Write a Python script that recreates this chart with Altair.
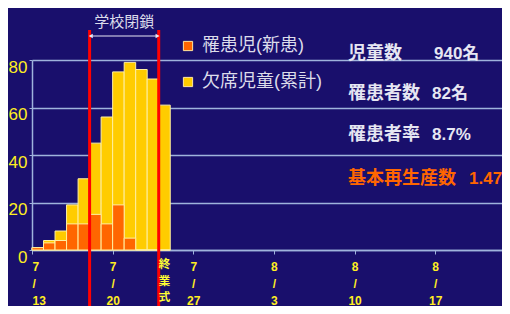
import json
import altair as alt
import pandas as pd

# ---- data ----
dates = ["7/13", "7/14", "7/15", "7/16", "7/17", "7/18", "7/19", "7/20", "7/21", "7/22", "7/23", "7/24"]
absent_cum = [1, 4, 8, 19, 30, 45, 56, 75, 79, 76, 72, 61]
new_cases = [1, 3, 4, 11, 11, 15, 11, 19, 5, 0, 0, 0]
series_names = ["罹患児(新患)", "欠席児童(累計)"]
tick_dates = ["7/13", "7/20", "7/27", "8/3", "8/10", "8/17"]
y_ticks = [0, 20, 40, 60, 80]
closure_dates = ["7/18", "7/24"]
closure_label = "学校閉鎖"
ceremony_label = "終業式"
stat_labels = ["児童数", "罹患者数", "罹患者率", "基本再生産数"]
stat_values = ["940名", "82名", "8.7%", "1.47"]


def day_index(s):
    m, d = map(int, s.split("/"))
    return d - 13 if m == 7 else 31 - 13 + d


rows = []
for name, vals in [(series_names[1], absent_cum), (series_names[0], new_cases)]:
    for dt, v in zip(dates, vals):
        rows.append({"date": dt, "day": day_index(dt), "day_end": day_index(dt) + 1,
                     "series": name, "value": v})
bars_df = pd.DataFrame(rows)

label_expr = " : ".join(
    f"datum.value == {day_index(t)} ? {json.dumps([t.split('/')[0], '/', t.split('/')[1]])}"
    for t in tick_dates
) + " : ''"

BG = "#190f6c"
GRID = "#9fb3dc"
YELLOW_TXT = "#ffee22"
LIGHT = "#dcdcea"
CJK = "Liberation Sans, Noto Sans CJK JP"

x_scale = alt.Scale(domain=[0, 40.8], nice=False, zero=False)
y_scale = alt.Scale(domain=[0, 80], nice=False)

bars = alt.Chart(bars_df).mark_bar(stroke="#fff0a0", strokeWidth=1, opacity=1).encode(
    x=alt.X("day:Q", scale=x_scale, title=None,
            axis=alt.Axis(values=[day_index(t) for t in tick_dates], labelExpr=label_expr,
                          grid=False, domainColor=GRID, domainWidth=1.5, tickColor=GRID, tickSize=4,
                          labelColor=YELLOW_TXT, labelFontSize=12, labelFontWeight="bold",
                          labelFont="Liberation Sans", labelLineHeight=17, labelPadding=7,
                          labelBaseline="top")),
    x2="day_end:Q",
    y=alt.Y("value:Q", scale=y_scale, stack=None, title=None,
            axis=alt.Axis(values=y_ticks, grid=True, gridColor=GRID, gridWidth=1.5,
                          domainColor=GRID, domainWidth=1.5, tickColor=GRID, tickSize=3,
                          labelColor=YELLOW_TXT, labelFontSize=17, labelFont="Liberation Sans",
                          labelPadding=2, labelOffset=7)),
    y2=alt.datum(0),
    color=alt.Color("series:N", title=None,
                    scale=alt.Scale(domain=series_names, range=["#ff6600", "#ffcc00"]),
                    sort=series_names,
                    legend=alt.Legend(orient="none", legendX=147, legendY=-23, padding=0,
                                      symbolType="square", symbolSize=85, symbolStrokeColor="#ffe6a0",
                                      symbolStrokeWidth=1, symbolOpacity=1,
                                      labelFont=CJK, labelFontSize=18, labelColor=LIGHT,
                                      labelOffset=5, rowPadding=18, labelLimit=300)),
)

closure_df = pd.DataFrame({"day": [day_index(d) for d in closure_dates]})
red_lines = alt.Chart(closure_df).mark_rule(color="#ff0000", strokeWidth=3).encode(
    x=alt.X("day:Q", scale=x_scale), y=alt.value(-30), y2=alt.value(246)
)

arrow_df = pd.DataFrame({"start": [day_index(closure_dates[0]) + 0.1],
                         "end": [day_index(closure_dates[1]) - 0.1]})
arrow = alt.Chart(arrow_df).mark_rule(color="#e8e8f4", strokeWidth=1).encode(
    x=alt.X("start:Q", scale=x_scale), x2="end:Q", y=alt.value(-24)
)
head_l = alt.Chart(arrow_df).mark_point(shape="triangle-left", filled=True, color="#e8e8f4",
                                        size=22, opacity=1).encode(
    x=alt.X("start:Q", scale=x_scale), y=alt.value(-24))
head_r = alt.Chart(arrow_df).mark_point(shape="triangle-right", filled=True, color="#e8e8f4",
                                        size=22, opacity=1).encode(
    x=alt.X("end:Q", scale=x_scale), y=alt.value(-24))

closure_text_df = pd.DataFrame({"mid": [(day_index(closure_dates[0]) + day_index(closure_dates[1])) / 2],
                                "label": [closure_label]})
closure_text = alt.Chart(closure_text_df).mark_text(
    font="Noto Sans CJK JP", fontSize=15, color=LIGHT, baseline="middle", align="center"
).encode(x=alt.X("mid:Q", scale=x_scale), y=alt.value(-38), text="label:N")

cer_layers = []
for i, ch in enumerate(ceremony_label):
    cdf = pd.DataFrame({"day": [day_index(closure_dates[1]) + 0.5], "label": [ch]})
    cer_layers.append(alt.Chart(cdf).mark_text(
        font="Noto Sans CJK JP", fontSize=11.5, fontWeight="bold", color="#ffff33",
        baseline="middle", align="center"
    ).encode(x=alt.X("day:Q", scale=x_scale), y=alt.value(205 + i * 16.7), text="label:N"))

stat_y = [-6, 34, 75, 119]
stat_val_x = [402, 400, 400, 437]
stat_colors = ["#e6e6f2", "#e6e6f2", "#e6e6f2", "#ff6600"]
stat_layers = []
for lab, val, yy, vx, col in zip(stat_labels, stat_values, stat_y, stat_val_x, stat_colors):
    d = pd.DataFrame({"label": [lab], "value": [val]})
    stat_layers.append(alt.Chart(d).mark_text(
        font=CJK, fontSize=18, fontWeight="bold", color=col, align="left", baseline="middle"
    ).encode(x=alt.value(316), y=alt.value(yy), text="label:N"))
    stat_layers.append(alt.Chart(d).mark_text(
        font=CJK, fontSize=17, fontWeight="bold", color=col, align="left", baseline="middle"
    ).encode(x=alt.value(vx), y=alt.value(yy), text="value:N"))

chart = alt.layer(bars, red_lines, arrow, head_l, head_r, closure_text, *cer_layers, *stat_layers).properties(
    width=470, height=190,
    autosize=alt.AutoSizeParams(type="none"),
    padding={"left": 24, "top": 52, "right": 0, "bottom": 56},
    background=BG,
).configure_view(stroke=None)

chart.save("out.html", embed_options={"renderer": "svg", "actions": False})
